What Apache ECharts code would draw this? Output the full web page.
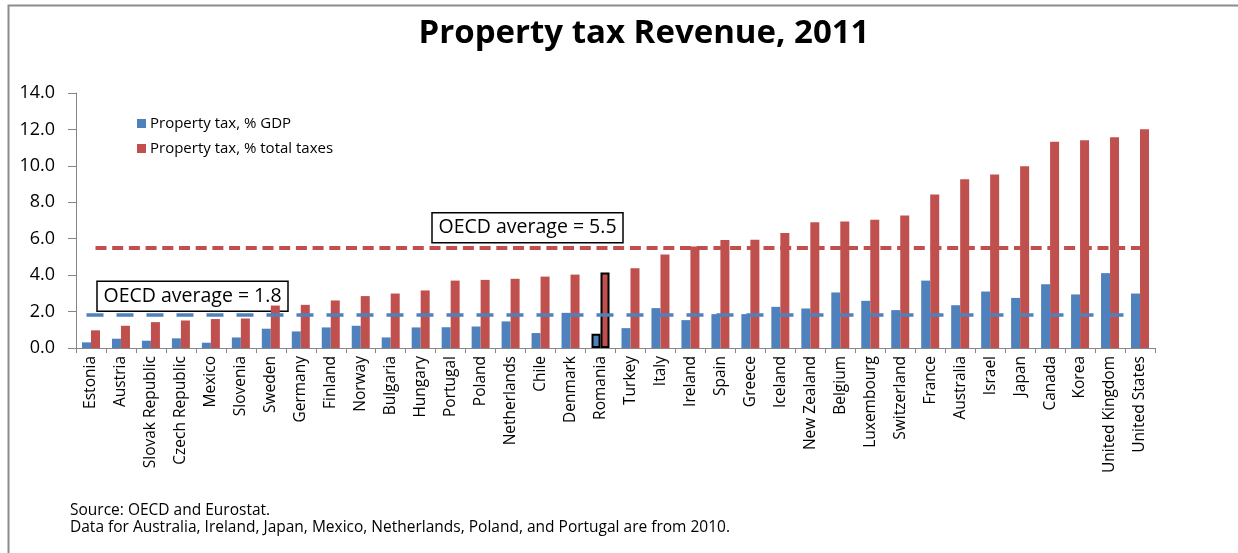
<!DOCTYPE html>
<html>
<head>
<meta charset="utf-8">
<script src="https://cdn.jsdelivr.net/npm/echarts@6/dist/echarts.min.js"></script>
<style>
  html, body { margin: 0; padding: 0; background: #fff; }
  #chart { width: 1238px; height: 553px; }
</style>
</head>
<body>
<div id="chart"></div>
<script>
// Property tax revenue by country, 2011
const countries = ['Estonia', 'Austria', 'Slovak Republic', 'Czech Republic', 'Mexico', 'Slovenia', 'Sweden',
  'Germany', 'Finland', 'Norway', 'Bulgaria', 'Hungary', 'Portugal', 'Poland', 'Netherlands', 'Chile',
  'Denmark', 'Romania', 'Turkey', 'Italy', 'Ireland', 'Spain', 'Greece', 'Iceland', 'New Zealand',
  'Belgium', 'Luxembourg', 'Switzerland', 'France', 'Australia', 'Israel', 'Japan', 'Canada', 'Korea',
  'United Kingdom', 'United States'];

// Property tax as % of GDP
const pctGdp = [0.31, 0.51, 0.40, 0.53, 0.29, 0.58, 1.06, 0.91, 1.13, 1.22, 0.58, 1.13, 1.14, 1.18, 1.46, 0.82,
  1.93, 0.78, 1.09, 2.19, 1.53, 1.86, 1.86, 2.26, 2.17, 3.05, 2.59, 2.08, 3.70, 2.35, 3.10, 2.75, 3.50, 2.94,
  4.11, 2.99];

// Property tax as % of total taxes
const pctTotal = [0.97, 1.22, 1.42, 1.51, 1.59, 1.62, 2.33, 2.37, 2.61, 2.85, 2.99, 3.16, 3.70, 3.74, 3.80, 3.92,
  4.03, 4.14, 4.38, 5.13, 5.57, 5.93, 5.95, 6.31, 6.90, 6.95, 7.04, 7.28, 8.43, 9.27, 9.53, 9.98, 11.33, 11.41,
  11.57, 12.01];

const oecdAvgGdp = 1.8;
const oecdAvgTotal = 5.5;
const highlighted = 'Romania';

const seriesNames = ['Property tax, % GDP', 'Property tax, % total taxes'];
const notes = ['Source: OECD and Eurostat.',
  'Data for Australia, Ireland, Japan, Mexico, Netherlands, Poland, and Portugal are from 2010.'];

const BLUE = '#4F81BD';
const RED = '#C0504D';
const AXIS = '#868686';
const FONT = '"Open Sans", "DejaVu Sans", sans-serif';

function withHighlight(values) {
  return values.map((v, i) => countries[i] === highlighted
    ? { value: v, itemStyle: { borderColor: '#000', borderWidth: 2 } }
    : v);
}

function avgLine(value) {
  return [[{ xAxis: 0, yAxis: value }, { xAxis: countries.length - 1, yAxis: value }]];
}

const chart = echarts.init(document.getElementById('chart'), null, { renderer: 'canvas' });

chart.setOption({
  animation: false,
  backgroundColor: '#fff',
  textStyle: { fontFamily: FONT, color: '#000' },
  title: [
    { text: 'Property tax Revenue, 2011', left: 639, top: 12, textAlign: 'center',
      textStyle: { fontFamily: FONT, fontWeight: 'bold', fontSize: 33, color: '#000' } },
    { text: notes[0], left: 65, top: 498,
      textStyle: { fontFamily: FONT, fontWeight: 'normal', fontSize: 15.5, color: '#000' } },
    { text: notes[1], left: 65, top: 515,
      textStyle: { fontFamily: FONT, fontWeight: 'normal', fontSize: 15.5, color: '#000' } }
  ],
  legend: {
    data: seriesNames,
    orient: 'vertical',
    left: 132, top: 111,
    itemWidth: 9, itemHeight: 9, itemGap: 10,
    icon: 'rect',
    textStyle: { fontFamily: FONT, fontSize: 15, color: '#000', padding: [0, 0, 0, -1] }
  },
  grid: { left: 76, right: 83, top: 93, bottom: 205, containLabel: false },
  xAxis: {
    type: 'category',
    data: countries,
    boundaryGap: true,
    axisLine: { lineStyle: { color: AXIS, width: 1 } },
    axisTick: { show: true, length: 5, alignWithLabel: false, lineStyle: { color: AXIS } },
    axisLabel: { rotate: 90, interval: 0, margin: 8, fontFamily: FONT, fontSize: 15.5, color: '#000' }
  },
  yAxis: {
    type: 'value',
    min: 0, max: 14, interval: 2,
    axisLine: { show: true, lineStyle: { color: AXIS, width: 1 } },
    axisTick: { show: true, length: 8, lineStyle: { color: AXIS } },
    splitLine: { show: false },
    axisLabel: { margin: 21, fontFamily: FONT, fontSize: 18, color: '#000',
      formatter: v => v.toFixed(1) }
  },
  series: [
    {
      name: seriesNames[0], type: 'bar', barWidth: 9, barGap: '0%',
      itemStyle: { color: BLUE },
      data: withHighlight(pctGdp),
      markLine: {
        silent: true, symbol: 'none', label: { show: false },
        lineStyle: { color: BLUE, width: 3.5, type: [17, 13] },
        data: avgLine(oecdAvgGdp)
      },
      z: 2
    },
    {
      name: seriesNames[1], type: 'bar', barWidth: 9, barGap: '0%',
      itemStyle: { color: RED },
      data: withHighlight(pctTotal),
      markLine: {
        silent: true, symbol: 'none', label: { show: false },
        lineStyle: { color: RED, width: 4, type: [11, 5.7] },
        data: avgLine(oecdAvgTotal)
      },
      z: 2
    }
  ]
});

// Annotation boxes sitting just above each average line
function noteBox(text, x, value, gap) {
  const yLine = chart.convertToPixel({ yAxisIndex: 0 }, value);
  const h = 30, w = 191;
  return {
    type: 'group', x: x, y: yLine - gap - h, z: 20,
    children: [
      { type: 'rect', shape: { x: 0, y: 0, width: w, height: h },
        style: { fill: '#fff', stroke: '#000', lineWidth: 1.5 } },
      { type: 'text', x: w / 2, y: h / 2,
        style: { text: text, fontFamily: FONT, fontSize: 19.5, fill: '#000',
          textAlign: 'center', textVerticalAlign: 'middle' } }
    ]
  };
}

chart.setOption({
  graphic: [
    { type: 'polyline', z: 30,
      shape: { points: [[8.5, 553], [8.5, 5.5], [1238, 5.5]] },
      style: { stroke: '#8c8c8c', lineWidth: 2, fill: null } },
    noteBox('OECD average = ' + oecdAvgTotal.toFixed(1), 432, oecdAvgTotal, 5),
    noteBox('OECD average = ' + oecdAvgGdp.toFixed(1), 97, oecdAvgGdp, 4)
  ]
});
</script>
</body>
</html>
